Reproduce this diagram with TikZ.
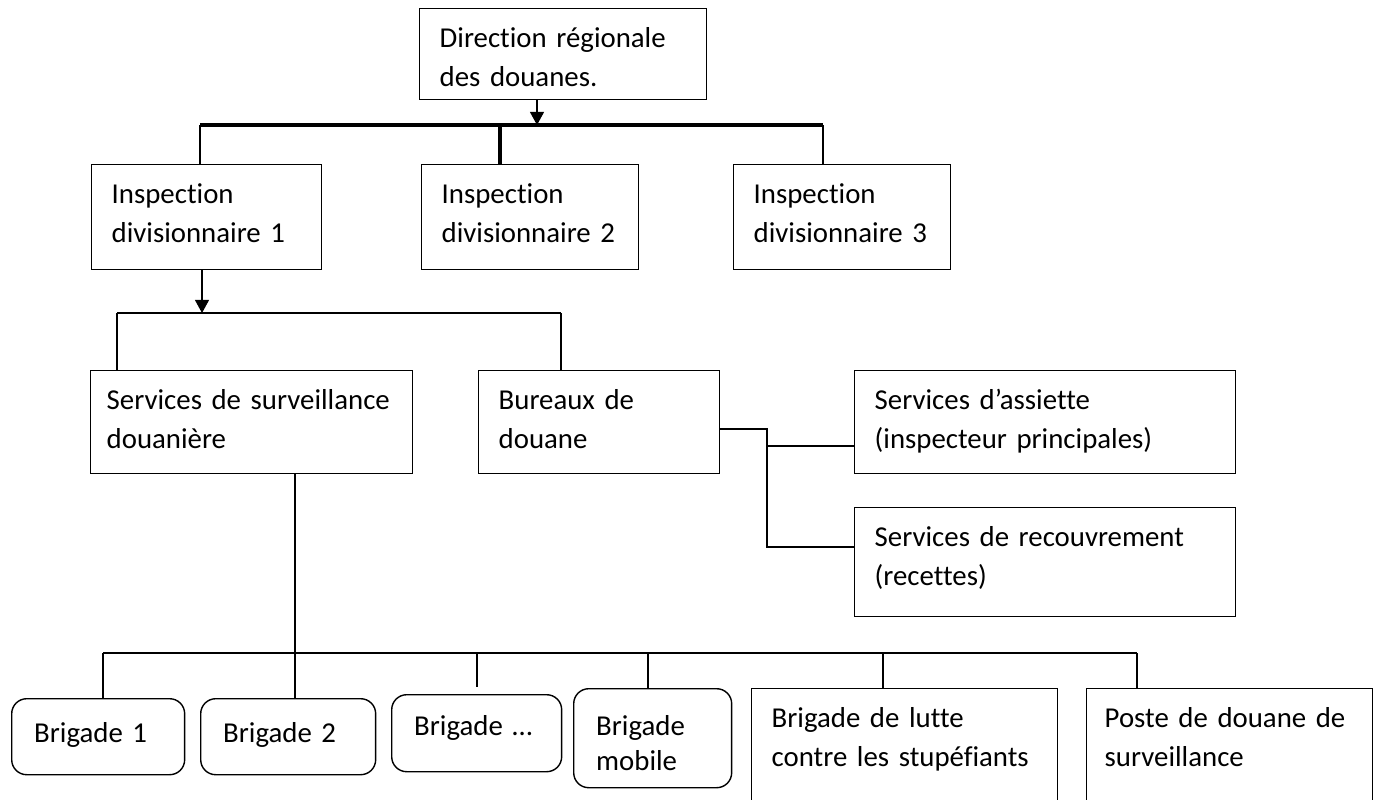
\documentclass[tikz,border=0pt]{standalone}
\usepackage{fontspec}
\setmainfont{Carlito}[Ligatures=CommonOff, WordSpace=0.8]
\usetikzlibrary{arrows.meta}
\tikzstyle{box}=[draw=black, line width=0.8pt, anchor=north west, inner xsep=0.4cm, inner ysep=0pt, align=left, text height=0.78cm, font=\fontsize{16.4}{22.1}\selectfont]
\tikzstyle{round_box}=[box, rounded corners=0.3cm, inner xsep=0.45cm]
\tikzstyle{link}=[line width=0.8pt]
\tikzstyle{heavy_link}=[line width=1.8pt]
\tikzstyle{arrow_link}=[line width=0.8pt, -{Triangle[width=8pt,length=7.5pt]}]

\begin{document}
\begin{tikzpicture}[x=0.02cm, y=-0.02cm]
    \useasboundingbox (0,0) rectangle (1378,799);
    \clip (0,0) rectangle (1378,799);

    \node (dir) at (419,8) [box, text width=4.94cm, text depth=1.04cm] {Direction régionale\\des douanes.};

    \node (id1) at (91,164)  [box, text width=3.8cm,  text depth=1.32cm] {Inspection\\divisionnaire 1};
    \node (id2) at (421,164) [box, text width=3.54cm, text depth=1.32cm] {Inspection\\divisionnaire 2};
    \node (id3) at (733,164) [box, text width=3.54cm, text depth=1.32cm] {Inspection\\divisionnaire 3};

    \node (ssd) at (90,370)  [box, inner xsep=0.32cm, text width=5.8cm, text depth=1.28cm] {Services de surveillance\\douanière};
    \node (bur) at (478,370) [box, text width=4.02cm, text depth=1.28cm] {Bureaux de\\douane};
    \node (ass) at (854,370) [box, text width=6.82cm, text depth=1.28cm] {Services d’assiette\\(inspecteur principales)};
    \node (rec) at (854,507) [box, text width=6.82cm, text depth=1.40cm] {Services de recouvrement\\(recettes)};

    \node (b1) at (11,698)  [round_box, text width=2.56cm, text height=0.88cm, text depth=0.64cm] {Brigade 1};
    \node (b2) at (200,698) [round_box, text width=2.6cm,  text height=0.88cm, text depth=0.64cm] {Brigade 2};
    \node (b3) at (391,694) [round_box, text width=2.5cm,  text height=0.82cm, text depth=0.72cm] {Brigade …};
    \node (bm) at (573,688) [round_box, text width=2.26cm, text height=0.94cm, text depth=1.04cm] {Brigade\\[-0.08cm]mobile};
    \node (lutte) at (751,688) [box, text width=5.32cm, text depth=2.06cm] {Brigade de lutte\\contre les stupéfiants};
    \node (poste) at (1086,688) [box, inner xsep=0.36cm, text width=5.0cm, text depth=2.06cm] {Poste de douane de\\surveillance};

    % direction -> inspections
    \coordinate (top) at (537,125);
    \coordinate (h1) at (200,125);
    \coordinate (h2) at (500,125);
    \coordinate (h3) at (823,125);
    \draw (dir.south -| top) -- (top) [arrow_link];
    \draw (h1) -- (h3) [heavy_link];
    \draw (h1) -- (h1 |- id1.north) [link];
    \draw (h2) -- (h2 |- id2.north) [heavy_link];
    \draw (h3) -- (h3 |- id3.north) [link];

    % inspection 1 -> services
    \coordinate (mid) at (202,313);
    \coordinate (m1) at (117,313);
    \coordinate (m2) at (561,313);
    \draw (id1.south -| mid) -- (mid) [arrow_link];
    \draw (m1) -- (m2) [link];
    \draw (m1) -- (m1 |- ssd.north) [link];
    \draw (m2) -- (m2 |- bur.north) [link];

    % bureaux -> assiette, recouvrement
    \coordinate (k1) at (767,429);
    \coordinate (k2) at (767,547);
    \coordinate (k3) at (767,446);
    \draw (bur.east |- k1) -- (k1) -- (k2) -- (rec.west |- k2) [link];
    \draw (k3) -- (ass.west |- k3) [link];

    % surveillance -> brigades
    \coordinate (s1) at (295,653);
    \coordinate (n1) at (103,653);
    \coordinate (n3) at (477,653);
    \coordinate (n3e) at (477,687);
    \coordinate (n4) at (648,653);
    \coordinate (n5) at (883,653);
    \coordinate (n6) at (1137,653);
    \draw (ssd.south -| s1) -- (s1 |- b2.north) [link];
    \draw (n1) -- (n6) [link];
    \draw (n1) -- (n1 |- b1.north) [link];
    \draw (n3) -- (n3e) [link];
    \draw (n4) -- (n4 |- bm.north) [link];
    \draw (n5) -- (n5 |- lutte.north) [link];
    \draw (n6) -- (n6 |- poste.north) [link];
\end{tikzpicture}
\end{document}
